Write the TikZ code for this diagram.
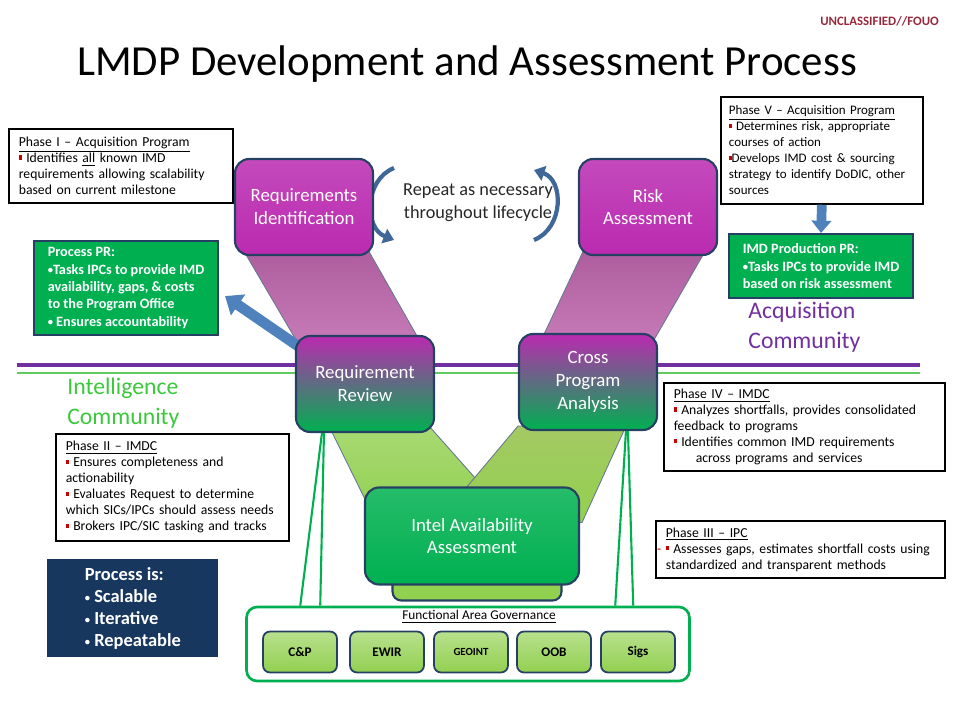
\documentclass[tikz,border=0pt]{standalone}
\usepackage{fontspec}
\setmainfont{Carlito}
\usepackage{tikz}
\usetikzlibrary{positioning,arrows.meta,calc,backgrounds}
\usepackage{xcolor}
\definecolor{vpurple}{RGB}{186,42,176}
\definecolor{vgreen}{RGB}{0,176,80}
\definecolor{limeband}{RGB}{146,208,80}
\definecolor{mauveband}{RGB}{190,100,172}
\definecolor{boxnavy}{RGB}{38,64,100}
\definecolor{arrowblue}{RGB}{79,129,189}
\definecolor{linepurple}{RGB}{112,48,160}
\definecolor{linegreen}{RGB}{96,204,96}
\definecolor{classred}{RGB}{150,40,60}
\definecolor{bulletred}{RGB}{200,0,0}
\definecolor{procnavy}{RGB}{23,55,94}
\definecolor{icgreen}{RGB}{60,200,60}
\newcommand{\redbul}{\textcolor{bulletred}{\rule[0.45ex]{1.6pt}{2.4pt}}}
\newcommand{\smbul}{\raisebox{0.1ex}{\fontsize{6}{6}\selectfont •}}

\begin{document}
\begin{tikzpicture}[x=0.02cm,y=-0.02cm,
  vbox/.style={rounded corners=8pt,draw=boxnavy,line width=1.2pt,text=white,align=center,
    minimum width=2.76cm,minimum height=1.92cm,font=\fontsize{10.7}{13}\selectfont},
  note/.style={draw=black,line width=1pt,fill=white,align=left,inner xsep=0.2cm,
    font=\fontsize{7.8}{9.1}\selectfont,anchor=north west},
  prbox/.style={draw=boxnavy,line width=1.2pt,fill=vgreen,text=white,align=left,
    font=\fontsize{8.1}{9.9}\selectfont\bfseries,anchor=north west,minimum width=3.68cm},
  fabox/.style={rounded corners=4pt,draw=boxnavy,line width=1pt,top color=limeband!65!white,
    bottom color=limeband,minimum width=1.48cm,minimum height=0.82cm},
  band/.style={draw=boxnavy!70,line width=0.5pt},
  blockarrow/.style={arrowblue,line width=6pt,-{Triangle[length=9pt,width=14pt]}},
  repeatarrow/.style={arrowblue!80!black,line width=2.4pt,-{Triangle[length=6pt,width=8.5pt]}}
]
\useasboundingbox (0,0) rectangle (960,720);

\node[font=\fontsize{7.3}{8}\selectfont\bfseries,text=classred,anchor=east] (Class) at (945,21) {UNCLASSIFIED//FOUO};
\node[font=\fontsize{24.4}{28}\selectfont,anchor=base] (Title) at (467,75) {LMDP Development and Assessment Process};

\node[vbox,top color=vpurple!85!white,bottom color=vpurple] (ReqId) at (304,207) {Requirements\\Identification};
\node[vbox,top color=vpurple!85!white,bottom color=vpurple] (RiskA) at (648,207) {Risk\\Assessment};
\node[vbox,top color=vpurple,bottom color=vgreen] (ReqRev) at (365,384) {Requirement\\Review};
\node[vbox,top color=vpurple,bottom color=vgreen] (CrossPA) at (588,382) {Cross\\Program\\Analysis};
\node[rounded corners=5pt,draw=boxnavy,line width=1.2pt,fill=limeband,minimum width=3.38cm,
  minimum height=0.5cm] (IntelBase) at (477,588) {};
\node[vbox,top color=vgreen!85!white,bottom color=vgreen,minimum width=4.28cm,minimum height=1.94cm] (Intel) at (472,536) {Intel Availability\\Assessment};

\node[font=\fontsize{10.4}{13}\selectfont,align=center,text=black!85] (Repeat) at (478,203) {Repeat as necessary\\throughout lifecycle};

\begin{scope}[on background layer]
\draw[linepurple,line width=2.8pt] (17,365) -- (920,365);
\draw[linegreen,line width=1.7pt] (17,373) -- (920,373);
\path[band,top color=mauveband!90!black,bottom color=mauveband!85!white]
  ($(ReqId.south west)+(4,-15)$) -- ($(ReqId.south east)+(-11,-15)$)
  -- ($(ReqRev.north east)+(-13,10)$) -- ($(ReqRev.north west)+(4,10)$) -- cycle;
\path[band,top color=mauveband!90!black,bottom color=mauveband!85!white]
  ($(RiskA.south west)+(10,-15)$) -- ($(RiskA.south east)+(-7,-15)$)
  -- ($(CrossPA.north east)+(-7,12)$) -- ($(CrossPA.north west)+(21,12)$) -- cycle;
\path[band,top color=limeband!80!white,bottom color=limeband]
  ($(ReqRev.south west)+(34,-7)$) -- ($(ReqRev.south east)+(-6,-7)$)
  -- ($(Intel.north west)+(148,33)$) -- ($(Intel.north west)+(11,33)$) -- cycle;
\path[band,top color=limeband!75!olive!80!white,bottom color=limeband]
  ($(CrossPA.south west)+(0,-5)$) -- ($(CrossPA.south east)+(-32,-5)$)
  -- ($(Intel.north east)+(2,36)$) -- ($(Intel.north west)+(73,36)$) -- cycle;
\draw[repeatarrow] ($(Repeat.west)+(-3,-35)$) .. controls ($(Repeat.west)+(-33,-23)$) and ($(Repeat.west)+(-33,25)$) .. ($(Repeat.west)+(-3,37)$);
\draw[repeatarrow] ($(Repeat.east)+(-25,37)$) .. controls ($(Repeat.east)+(5,25)$) and ($(Repeat.east)+(5,-23)$) .. ($(Repeat.east)+(-25,-33)$);
\end{scope}

\node[note,text width=4.08cm,minimum height=1.48cm] (P1) at (8,128)
  {\underline{Phase I -- Acquisition Program}\\ \redbul\ Identifies \underline{all} known IMD\\
   requirements allowing scalability\\ based on current milestone};
\node[note,font=\fontsize{7.4}{9.1}\selectfont,inner xsep=0.16cm,text width=3.72cm,minimum height=2.14cm] (P5) at (720,96)
  {\underline{Phase V -- Acquisition Program}\\ \redbul\ Determines risk, appropriate\\ courses of action\\
   \redbul Develops IMD cost \& sourcing\\ strategy to identify DoDIC, other\\ sources};
\node[prbox,minimum height=1.88cm] (PPR) at (33,240)
  {Process PR:\\ \smbul Tasks IPCs to provide IMD\\ availability, gaps, \& costs\\ to the Program Office\\ \smbul\ Ensures accountability};
\node[prbox,minimum height=1.28cm] (IMDPR) at (728,233)
  {IMD Production PR:\\ \smbul Tasks IPCs to provide IMD\\ based on risk assessment};
\node[note,text width=5.22cm,minimum height=1.76cm] (P4) at (663,382)
  {\underline{Phase IV -- IMDC}\\ \redbul\ Analyzes shortfalls, provides consolidated\\ feedback to programs\\
   \redbul\ Identifies common IMD requirements\\ \hspace*{1.6em}across programs and services};
\node[note,text width=4.26cm,minimum height=2.14cm] (P2) at (55,433)
  {\underline{Phase II -- IMDC}\\ \redbul\ Ensures completeness and\\ actionability\\ \redbul\ Evaluates Request to determine\\
   which SICs/IPCs should assess needs\\ \redbul\ Brokers IPC/SIC tasking and tracks};
\node[note,text width=5.38cm,minimum height=1.14cm] (P3) at (655,520)
  {\underline{Phase III -- IPC}\\ \mbox{\llap{\textcolor{bulletred}{-}\ }\redbul\ Assesses gaps, estimates shortfall costs using}\\
   standardized and transparent methods};
\node[fill=procnavy,text=white,align=left,anchor=north west,minimum width=3.42cm,minimum height=1.96cm,
  font=\fontsize{10.5}{12.6}\selectfont\bfseries] (ProcIs) at (47,559) {Process is:\\ \smbul\ Scalable\\ \smbul\ Iterative\\ \smbul\ Repeatable};

\node[font=\fontsize{13.5}{17}\selectfont,text=linepurple,align=left,anchor=north west,inner sep=0pt] (AcqCom) at (748,302) {Acquisition\\Community};
\node[font=\fontsize{13.5}{17}\selectfont,text=icgreen,align=left,anchor=north west,inner sep=0pt] (IntCom) at (67,378) {Intelligence\\Community};

\node[rounded corners=6pt,draw=vgreen,line width=1.5pt,minimum width=8.86cm,minimum height=1.48cm] (FAG) at (468,644) {};
\node[font=\fontsize{7.6}{8}\selectfont] (FALabel) at (479,617) {\underline{Functional Area Governance}};
\foreach \t/\x/\s [count=\i] in {C\&P/300/7.5,EWIR/387/7.5,GEOINT/471/6.2,OOB/554/7.5,Sigs/638/7.5}
  \node[fabox,font=\fontsize{\s}{9}\selectfont\bfseries] (FA\i) at (\x,652) {\t};

\draw[vgreen,line width=1.2pt] ($(FAG.north west)+(55,0)$) -- ($(ReqRev.south west)+(27,0)$);
\draw[vgreen,line width=1.2pt] ($(FAG.north west)+(75,0)$) -- ($(ReqRev.south west)+(29,0)$);
\draw[vgreen,line width=1.2pt] ($(FAG.north west)+(370,0)$) -- ($(CrossPA.south west)+(108,0)$);
\draw[vgreen,line width=1.2pt] ($(FAG.north west)+(388,0)$) -- ($(CrossPA.south west)+(110,0)$);

\begin{scope}[on background layer]
\draw[blockarrow] ($(ReqRev.north west)+(19,22)$) -- ($(PPR.east)+(6,8)$);
\end{scope}
\draw[blockarrow,line width=5.5pt,-{Triangle[length=7pt,width=11pt]}] (P5.south) -- (IMDPR.north);
\end{tikzpicture}
\end{document}
